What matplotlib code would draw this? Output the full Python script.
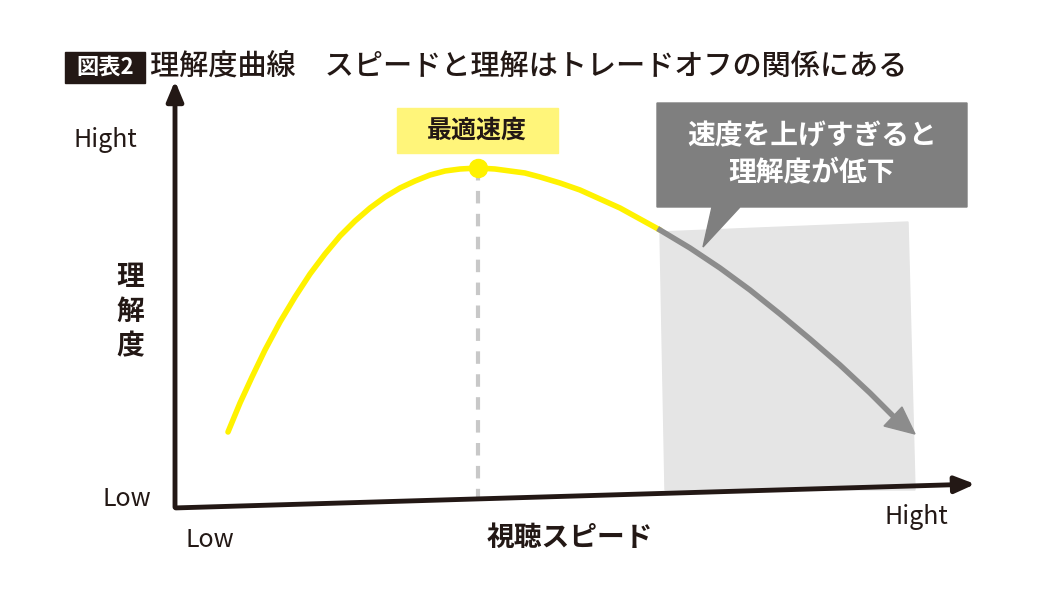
import matplotlib
matplotlib.use("Agg")
import matplotlib.pyplot as plt
from matplotlib.patches import Polygon, Rectangle

plt.rcParams['font.family'] = ['Noto Sans CJK JP', 'DejaVu Sans']

# curve (speed vs understanding), in chart units
curve_x = [228, 240, 252, 265, 280, 295, 310, 325, 340, 355, 370, 385, 400, 415, 430, 445, 460, 478,
           495, 510, 525, 540, 560, 580, 600, 620, 640, 660]
curve_y = [432, 403, 377, 350, 322, 297, 274, 254, 236, 221, 208, 197, 188, 181, 175, 171, 169, 168,
           169, 171, 173, 177, 183, 190, 199, 208, 219, 230]
drop_x = [660, 690, 720, 750, 780, 810, 840, 870, 893]
drop_y = [230, 248, 268, 290, 314, 339, 365, 393, 416]
peak = (478, 168)

title_tag = "図表2"
title = "理解度曲線　スピードと理解はトレードオフの関係にある"
xlabel = "視聴スピード"
ylabel = "理\n解\n度"
optimum = "最適速度"
warning = "速度を上げすぎると\n理解度が低下"

fig = plt.figure(figsize=(10.5, 5.9), dpi=100)
ax = fig.add_axes([0, 0, 1, 1])
ax.set_xlim(0, 1050)
ax.set_ylim(590, 0)
ax.axis('off')

ax.add_patch(Polygon([(660, 232), (908, 222), (915, 490), (665, 490)],
                     closed=True, color='#e5e5e5', zorder=1))

ax.annotate('', xy=(175, 78), xytext=(175, 510),
            arrowprops=dict(arrowstyle='-|>,head_length=1.2,head_width=0.5', lw=3.5, color='#231815'))
ax.annotate('', xy=(978, 484), xytext=(173, 508),
            arrowprops=dict(arrowstyle='-|>,head_length=1.2,head_width=0.5', lw=3.5, color='#231815'))

ax.plot([peak[0], peak[0]], [peak[1], 498], ls=(0, (3, 2.5)), lw=3, color='#c8c8c8', zorder=2)

ax.plot(curve_x, curve_y, color='#fff200', lw=4, zorder=3, solid_capstyle='round',
        solid_joinstyle='round')
ax.plot(drop_x, drop_y, color='#8c8c8c', lw=4, zorder=3, solid_joinstyle='round')
ax.add_patch(Polygon([(915, 434), (884, 426), (902, 407)], closed=True, color='#8c8c8c', zorder=3))
ax.plot(*peak, 'o', color='#fff200', ms=13, zorder=4)

ax.add_patch(Rectangle((397, 108), 161, 45, color='#fff57a', zorder=2))
ax.text(477, 131, optimum, ha='center', va='center', fontsize=18, fontweight='bold', color='#231815')

ax.add_patch(Polygon([(657, 103), (967, 103), (967, 207), (740, 207), (703, 247), (712, 207), (657, 207)],
                     closed=True, color='#7f7f7f', zorder=2))
ax.text(812, 155, warning, ha='center', va='center', fontsize=20, fontweight='bold',
        color='white', linespacing=1.4, zorder=3)

ax.text(105, 140, "Hight", ha='center', va='center', fontsize=18, color='#231815')
ax.text(127, 499, "Low", ha='center', va='center', fontsize=18, color='#231815')
ax.text(210, 540, "Low", ha='center', va='center', fontsize=18, color='#231815')
ax.text(916, 517, "Hight", ha='center', va='center', fontsize=18, color='#231815')
ax.text(570, 538, xlabel, ha='center', va='center', fontsize=20, fontweight='bold', color='#231815')
ax.text(130, 312, ylabel, ha='center', va='center', fontsize=20, fontweight='bold',
        color='#231815', linespacing=1.3)

ax.add_patch(Rectangle((65, 52), 80, 31, color='#231815'))
ax.text(105, 67, title_tag, ha='center', va='center', fontsize=16, fontweight='bold', color='white')
ax.text(150, 66, title, ha='left', va='center', fontsize=21, fontweight='medium', color='#231815')

fig.savefig('out.png', dpi=100, facecolor='white')
